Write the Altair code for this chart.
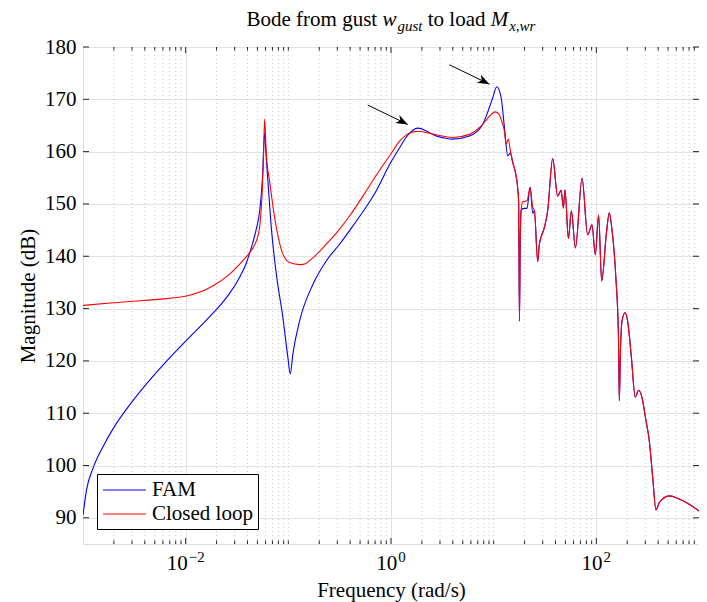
import altair as alt
import pandas as pd

FONT = "Liberation Serif"

# ---------------- data (log10 frequency [rad/s], magnitude [dB]) ----------------
fam_logw = [-3.0, -2.966, -2.902, -2.805, -2.708, -2.545, -2.382, -2.221, -1.993, -1.798,
            -1.669, -1.572, -1.474, -1.409, -1.377, -1.345, -1.312, -1.28, -1.253, -1.231,
            -1.215, -1.199, -1.166, -1.117, -1.053, -1.004, -0.981, -0.956, -0.891, -0.761,
            -0.631, -0.501, -0.4, -0.274, -0.15, 0.0, 0.08, 0.15, 0.261, 0.44,
            0.602, 0.764, 0.893, 0.95, 0.991, 1.03, 1.073, 1.105, 1.137, 1.163,
            1.186, 1.212, 1.234, 1.243, 1.251, 1.259, 1.267, 1.283, 1.325, 1.355,
            1.38, 1.397, 1.429, 1.445, 1.494, 1.526, 1.575, 1.623, 1.657, 1.679,
            1.695, 1.728, 1.757, 1.796, 1.861, 1.915, 1.958, 1.99, 2.022, 2.052,
            2.1, 2.126, 2.15, 2.19, 2.215, 2.224, 2.235, 2.25, 2.279, 2.305,
            2.34, 2.379, 2.412, 2.445, 2.48, 2.516, 2.55, 2.581, 2.61, 2.645,
            2.71, 2.807, 2.904, 3.0]
fam_db = [90.5, 95.3, 99.5, 103.6, 107.0, 111.6, 115.6, 119.2, 123.9, 127.8,
          130.5, 132.9, 136.0, 138.7, 140.6, 142.7, 145.2, 148.5, 154.5, 163.6,
          158.8, 154.4, 145.5, 136.6, 128.3, 120.6, 117.5, 121.3, 127.6, 134.6,
          139.1, 142.3, 145.0, 148.5, 152.3, 158.0, 160.6, 162.8, 164.5, 163.0,
          162.4, 163.0, 165.2, 168.0, 170.3, 172.4, 170.3, 164.6, 159.2, 159.8,
          157.9, 156.0, 153.1, 150.5, 127.6, 143.0, 148.7, 149.1, 149.2, 153.2,
          148.2, 148.7, 139.0, 142.3, 145.5, 148.7, 158.7, 151.5, 152.6, 149.2,
          152.7, 143.4, 148.7, 141.6, 154.9, 144.1, 146.0, 140.3, 147.9, 135.3,
          144.8, 148.3, 145.5, 136.0, 125.0, 112.4, 122.0, 127.6, 129.2, 127.6,
          121.0, 113.1, 114.4, 113.0, 109.0, 104.7, 97.5, 91.5, 92.8, 93.6,
          94.2, 93.6, 92.6, 91.3]

cl_logw = [-3.0, -2.708, -2.382, -1.993, -1.737, -1.572, -1.474, -1.377, -1.345, -1.312,
           -1.28, -1.253, -1.242, -1.231, -1.215, -1.183, -1.117, -1.053, -0.988, -0.891,
           -0.846, -0.761, -0.631, -0.501, -0.4, -0.274, -0.15, 0.0, 0.08, 0.15,
           0.261, 0.44, 0.602, 0.764, 0.893, 0.96, 1.017, 1.056, 1.088, 1.105,
           1.121, 1.143, 1.163, 1.186, 1.212, 1.234, 1.243, 1.251, 1.259, 1.267,
           1.283, 1.325, 1.355, 1.38, 1.397, 1.429, 1.445, 1.494, 1.526, 1.575,
           1.623, 1.657, 1.679, 1.695, 1.728, 1.757, 1.796, 1.861, 1.915, 1.958,
           1.99, 2.022, 2.052, 2.1, 2.126, 2.15, 2.19, 2.215, 2.224, 2.235,
           2.25, 2.279, 2.305, 2.34, 2.379, 2.412, 2.445, 2.48, 2.516, 2.55,
           2.581, 2.61, 2.645, 2.71, 2.807, 2.904, 3.0]
cl_db = [130.6, 131.1, 131.6, 132.4, 134.3, 136.6, 138.5, 140.7, 141.6, 142.9,
         145.5, 153.0, 159.0, 166.2, 159.6, 154.4, 145.5, 140.4, 138.8, 138.4,
         138.5, 139.7, 142.3, 145.2, 147.8, 151.5, 155.3, 159.6, 161.9, 163.2,
         163.9, 163.2, 162.7, 163.3, 165.2, 166.8, 167.6, 167.0, 165.2, 163.9,
         161.4, 162.4, 160.1, 157.9, 156.0, 153.1, 150.5, 127.6, 143.0, 148.7,
         150.4, 150.6, 153.2, 149.4, 148.7, 139.0, 142.3, 145.5, 148.7, 158.7,
         151.5, 152.6, 149.2, 152.7, 143.4, 148.7, 141.6, 154.9, 144.1, 146.0,
         140.3, 147.9, 135.3, 144.8, 148.3, 145.5, 136.0, 125.0, 112.4, 122.0,
         127.6, 129.2, 127.6, 121.0, 113.1, 114.4, 113.0, 109.0, 104.7, 97.5,
         91.5, 92.8, 93.6, 94.2, 93.6, 92.6, 91.3]

series_names = ["FAM", "Closed loop"]
series_colors = ["#0000ff", "#ff0000"]

y_ticks = [90, 100, 110, 120, 130, 140, 150, 160, 170, 180]
x_major = [1e-2, 1e0, 1e2]
x_major_exp = ["\u22122", "0", "2"]
x_minor = [m * 10.0 ** d for d in range(-3, 3) for m in range(1, 10)
           if not (m == 1 and d in (-3, -2, 0, 2))]

# annotation arrows (tail -> head)
arrow_tail_logw = [-0.226, 0.569]
arrow_tail_db = [168.9, 176.6]
arrow_head_logw = [0.1635, 0.959]
arrow_head_db = [165.2, 172.9]
arrow_angle = [27.7, 26.6]

title_text = "Bode from gust"
# ------------------------------------------------------------------------------

W, H = 616, 497

fam = pd.DataFrame({"f": [10 ** v for v in fam_logw], "db": fam_db, "series": "FAM"})
cl = pd.DataFrame({"f": [10 ** v for v in cl_logw], "db": cl_db, "series": "Closed loop"})

xscale = alt.Scale(type="log", domain=[1e-3, 1e3], nice=False)
yscale = alt.Scale(domain=[85, 180], nice=False, zero=False)

xaxis = alt.Axis(values=x_major, labels=False, ticks=False, domain=False, grid=True,
                 gridColor="#e3e3e3", gridWidth=1, title="Frequency (rad/s)",
                 titleFont=FONT, titleFontSize=21, titleFontWeight="normal",
                 titleColor="#000", titleY=52, titleBaseline="alphabetic")
yaxis = alt.Axis(values=y_ticks, ticks=False, domain=False, grid=True,
                 gridColor="#e3e3e3", gridWidth=1, labelFont=FONT, labelFontSize=21,
                 labelColor="#000", labelPadding=7, title="Magnitude (dB)",
                 titleFont=FONT, titleFontSize=21, titleFontWeight="normal",
                 titleColor="#000", titleAngle=-90, titleX=-49, titleY=H / 2,
                 titleAlign="center", titleBaseline="alphabetic")

X = alt.X("f:Q", scale=xscale, axis=xaxis)
Y = alt.Y("db:Q", scale=yscale, axis=yaxis)

legend = alt.Legend(orient="none", legendX=14, legendY=427, title=None,
                    symbolType="M-1,0 L3.3,0", symbolSize=400, symbolStrokeWidth=1.2,
                    labelFont=FONT, labelFontSize=21, labelColor="#000", labelOffset=28,
                    strokeColor="#000", fillColor="#fff", padding=5, rowPadding=3)
color = alt.Color("series:N", scale=alt.Scale(domain=series_names, range=series_colors),
                  legend=legend)

layers = []

# minor dotted grid
minor_df = pd.DataFrame({"f": x_minor})
layers.append(alt.Chart(minor_df).mark_rule(color="#c8c8c8", strokeDash=[1, 3], strokeWidth=1)
              .encode(x=X))

# curves
layers.append(alt.Chart(fam).mark_line(interpolate="monotone", strokeWidth=1.1, clip=True)
              .encode(x=X, y=Y, color=color))
layers.append(alt.Chart(cl).mark_line(interpolate="monotone", strokeWidth=1.1, clip=True)
              .encode(x=X, y=Y, color=color))

# inner ticks
tick_col = "#262626"
ydf = pd.DataFrame({"db": y_ticks})
layers.append(alt.Chart(ydf).mark_rule(color=tick_col).encode(y=Y, x=alt.value(0), x2=alt.value(6)))
layers.append(alt.Chart(ydf).mark_rule(color=tick_col).encode(y=Y, x=alt.value(W - 6), x2=alt.value(W)))
xmaj_df = pd.DataFrame({"f": x_major})
xmin_df = pd.DataFrame({"f": x_minor})
layers.append(alt.Chart(xmaj_df).mark_rule(color=tick_col).encode(x=X, y=alt.value(H - 6), y2=alt.value(H)))
layers.append(alt.Chart(xmaj_df).mark_rule(color=tick_col).encode(x=X, y=alt.value(0), y2=alt.value(6)))
layers.append(alt.Chart(xmin_df).mark_rule(color=tick_col).encode(x=X, y=alt.value(H - 3.5), y2=alt.value(H)))
layers.append(alt.Chart(xmin_df).mark_rule(color=tick_col).encode(x=X, y=alt.value(0), y2=alt.value(3.5)))

# x tick labels 10^n
for fv, ex in zip(x_major, x_major_exp):
    ew = 7.5 * len(ex) + (1 if ex.startswith("\u2212") else 0)
    tot = 21 + 1 + ew
    d = pd.DataFrame({"f": [fv]})
    layers.append(alt.Chart(d).mark_text(text="10", font=FONT, fontSize=21, align="right",
                                         baseline="alphabetic", dx=-tot / 2 + 21, color="#000")
                  .encode(x=X, y=alt.value(H + 26)))
    layers.append(alt.Chart(d).mark_text(text=ex, font=FONT, fontSize=15, align="left",
                                         baseline="alphabetic", dx=-tot / 2 + 22, color="#000")
                  .encode(x=X, y=alt.value(H + 18)))

# arrows
arr = pd.DataFrame({"f": [10 ** v for v in arrow_tail_logw], "db": arrow_tail_db,
                    "f2": [10 ** v for v in arrow_head_logw], "db2": arrow_head_db,
                    "ang": arrow_angle})
layers.append(alt.Chart(arr).mark_rule(color="#000", strokeWidth=1)
              .encode(x=X, y=Y, x2="f2:Q", y2="db2:Q"))
head = pd.DataFrame({"f": [10 ** v for v in arrow_head_logw], "db": arrow_head_db,
                     "ang": arrow_angle})
layers.append(alt.Chart(head).mark_point(shape="M0,0 L-1,-0.38 L-0.72,0 L-1,0.38 Z",
                                         filled=True, color="#000", opacity=1, size=560)
              .encode(x=X, y=Y, angle=alt.Angle("ang:Q", scale=None)))

# title with math-style subscripts
T, S = 21, 15
parts = []
cur = 0.0
def add(txt, style, size, dy, width):
    global cur
    parts.append((txt, style, size, dy, cur))
    cur += width
add(title_text, "normal", T, 0, 6.222 * T)
cur += 0.25 * T
add("w", "italic", T, 0, 0.667 * T + 1)
add("gust", "italic", S, 5, 1.667 * S)
cur += 0.25 * T
add("to load", "normal", T, 0, 2.75 * T)
cur += 0.25 * T
add("M", "italic", T, 0, 0.833 * T + 1)
add("x,wr", "italic", S, 5, 1.75 * S)
x0 = W / 2 - cur / 2
one = pd.DataFrame({"k": [0]})
for txt, style, size, dy, px in parts:
    layers.append(alt.Chart(one).mark_text(text=txt, font=FONT, fontSize=size, fontStyle=style,
                                           align="left", baseline="alphabetic", color="#000")
                  .encode(x=alt.value(x0 + px), y=alt.value(-21 + dy)))

chart = alt.layer(*layers).properties(
    width=W, height=H,
    autosize=alt.AutoSizeParams(type="none"),
    padding={"left": 75, "top": 39, "right": 0, "bottom": 58},
).configure_view(stroke="#262626", strokeWidth=1).configure(background="white")

chart.save("out.html", embed_options={"renderer": "svg", "actions": False})
